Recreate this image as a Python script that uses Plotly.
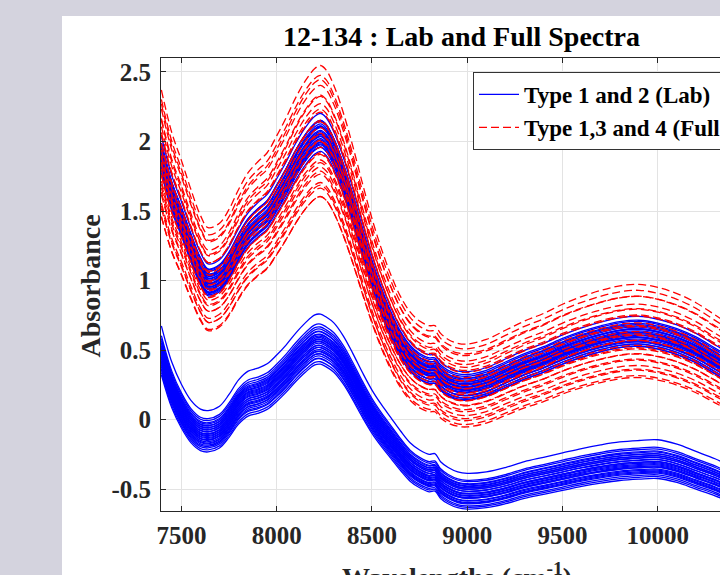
import plotly.graph_objects as go

# ---- data ----
wavenumber = [7395, 7450, 7500, 7550, 7600, 7640, 7700, 7750, 7800, 7850, 7900, 7950,
              8000, 8050, 8100, 8150, 8200, 8230, 8260, 8300, 8350, 8400, 8450, 8500,
              8550, 8600, 8650, 8700, 8750, 8800, 8830, 8860, 8900, 8950, 9000, 9100,
              9200, 9300, 9400, 9500, 9600, 9700, 9800, 9900, 10000, 10100, 10200, 10300, 10400]

# mean profile of the upper (Lab) spectra, also the reference shape of the Full spectra
lab_high_base = [1.90, 1.62, 1.44, 1.25, 1.08, 1.00, 1.03, 1.12, 1.25, 1.36, 1.43, 1.49,
                 1.60, 1.72, 1.85, 1.96, 2.04, 2.06, 2.03, 1.93, 1.75, 1.53, 1.29, 1.06,
                 0.86, 0.69, 0.55, 0.45, 0.39, 0.36, 0.36, 0.31, 0.27, 0.245, 0.24, 0.27,
                 0.33, 0.39, 0.44, 0.50, 0.55, 0.59, 0.62, 0.63, 0.61, 0.57, 0.51, 0.43, 0.35]

# mean profile of the lower (Lab) spectra
lab_low_base = [0.50, 0.25, 0.10, -0.01, -0.07, -0.08, -0.05, 0.03, 0.13, 0.19, 0.21, 0.24,
                0.30, 0.37, 0.45, 0.52, 0.575, 0.58, 0.56, 0.52, 0.43, 0.31, 0.18, 0.06,
                -0.04, -0.13, -0.22, -0.30, -0.35, -0.38, -0.375, -0.43, -0.47, -0.50, -0.51, -0.50,
                -0.47, -0.43, -0.40, -0.37, -0.34, -0.315, -0.295, -0.285, -0.28, -0.31, -0.36, -0.41, -0.47]

lab_low_gain = [1.05, 1.03, 1.02, 1.02, 1.01, 1.02, 1.00, 1.01, 1.00, 1.00, 0.99, 1.00, 0.99, 1.00, 0.99,
                0.98, 0.99, 0.98, 0.99, 0.98, 0.97, 0.98, 0.97, 0.98, 0.97, 0.96, 0.97, 0.96, 0.955]
lab_low_off = [0.15, 0.09, 0.075, 0.06, 0.05, 0.04, 0.035, 0.025, 0.02, 0.01, 0.005, -0.005, -0.01, -0.02, -0.025,
               -0.035, -0.04, -0.05, -0.055, -0.065, -0.07, -0.08, -0.09, -0.095, -0.105, -0.115, -0.125, -0.14, -0.155]

lab_high_gain = [1.02, 1.00, 1.01, 0.99, 1.02, 1.00, 0.98, 1.01, 1.00, 0.99, 1.02, 1.00, 0.99, 1.01, 1.00,
                 0.98, 1.01, 1.00, 0.99, 1.02, 0.98, 1.00, 1.01, 0.99, 1.00, 0.98, 1.00, 1.03, 0.97]
lab_high_off = [0.10, 0.085, 0.07, 0.06, 0.05, 0.045, 0.035, 0.03, 0.02, 0.015, 0.01, 0.0, -0.005, -0.01, -0.02,
                -0.025, -0.03, -0.04, -0.045, -0.05, -0.06, -0.065, -0.07, -0.08, -0.085, -0.09, -0.10, 0.005, -0.015]

full_gain = [1.10, 1.08, 1.09, 1.06, 1.05, 1.07, 1.03, 1.04, 1.02, 1.01, 1.03, 1.00, 0.99, 1.01, 0.98,
             0.97, 1.00, 0.96, 0.98, 0.95, 0.96, 0.94, 0.93, 0.95, 0.92, 0.91, 0.93, 0.90, 0.91]
full_off = [0.28, 0.25, 0.20, 0.22, 0.17, 0.12, 0.15, 0.09, 0.11, 0.06, 0.03, 0.04, 0.01, -0.02, -0.01,
            -0.04, -0.06, -0.07, -0.10, -0.09, -0.13, -0.12, -0.15, -0.17, -0.19, -0.21, -0.23, -0.25, -0.27]

x_ticks = [7500, 8000, 8500, 9000, 9500, 10000]
x_ticktext = ["7500", "8000", "8500", "9000", "9500", "10000"]
y_ticks = [-0.5, 0, 0.5, 1, 1.5, 2, 2.5]
y_ticktext = ["-0.5", "0", "0.5", "1", "1.5", "2", "2.5"]

lab_name = "Type 1 and 2 (Lab)"
full_name = "Type 1,3 and 4 (Full)"

# ---- figure ----
SERIF = "Liberation Serif, Times New Roman, serif"
fig = go.Figure()

first = True
for base, gains, offs in [(lab_low_base, lab_low_gain, lab_low_off),
                          (lab_high_base, lab_high_gain, lab_high_off)]:
    for g, o in zip(gains, offs):
        fig.add_trace(go.Scatter(
            x=wavenumber, y=[v * g + o for v in base], mode="lines",
            line=dict(color="#0000ff", width=1.3, shape="spline"),
            name=lab_name, legendgroup="lab", showlegend=first))
        first = False

first = True
for g, o in zip(full_gain, full_off):
    fig.add_trace(go.Scatter(
        x=wavenumber, y=[v * g + o for v in lab_high_base], mode="lines",
        line=dict(color="#ff0000", width=1.3, dash="8px,4px", shape="spline"),
        name=full_name, legendgroup="full", showlegend=first))
    first = False

L, T, B = 161, 58, 64
W, H = 720, 575
pw, ph = W - L, H - T - B

def px(x):
    return (x - L) / pw

def py(y):
    return (H - B - y) / ph

axis_common = dict(
    showline=True, linecolor="#262626", linewidth=1,
    ticks="inside", ticklen=5, tickcolor="#262626", tickwidth=1,
    showgrid=True, gridcolor="#e3e3e3", gridwidth=1, zeroline=False,
    tickfont=dict(family=SERIF, size=25, color="#262626", weight="bold"),
)

fig.update_layout(
    width=W, height=H,
    margin=dict(l=L, r=0, t=T, b=B, autoexpand=False),
    paper_bgcolor="#d4d3de", plot_bgcolor="#ffffff",
    xaxis=dict(range=[7393, 10326], tickvals=x_ticks, ticktext=x_ticktext, mirror="ticks",
               ticklabelstandoff=2, **axis_common),
    yaxis=dict(range=[-0.656, 2.6], tickvals=y_ticks, ticktext=y_ticktext,
               mirror=False, ticklabelstandoff=4, **axis_common),
    legend=dict(x=px(473), y=py(72), xanchor="left", yanchor="top",
                bgcolor="#ffffff", bordercolor="#333333", borderwidth=1,
                font=dict(family=SERIF, size=23, color="#000000", weight="bold"),
                tracegroupgap=0, itemwidth=40),
    shapes=[dict(type="rect", xref="paper", yref="paper",
                 x0=px(62), x1=1.2, y0=py(H + 20), y1=py(16),
                 fillcolor="#ffffff", line=dict(width=0), layer="below")],
    annotations=[
        dict(text="12-134 : Lab and Full Spectra", xref="paper", yref="paper",
             x=px(461), y=py(37), xanchor="center", yanchor="middle", showarrow=False,
             font=dict(family=SERIF, size=28, color="#000000", weight="bold")),
        dict(text="Absorbance", xref="paper", yref="paper", textangle=-90,
             x=px(89.5), y=py(286), xanchor="center", yanchor="middle", showarrow=False,
             font=dict(family=SERIF, size=28, color="#262626", weight="bold")),
        dict(text="Wavelengths (cm<sup>-1</sup>)", xref="paper", yref="paper",
             x=px(457), y=py(556), xanchor="center", yanchor="top", showarrow=False,
             font=dict(family=SERIF, size=28, color="#262626", weight="bold")),
    ],
)

fig.write_html("out.html")
